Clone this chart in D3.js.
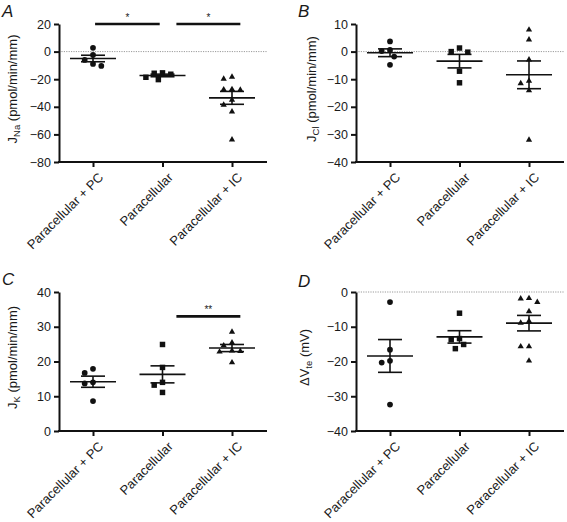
<!DOCTYPE html>
<html>
<head>
<meta charset="utf-8">
<script src="https://cdn.jsdelivr.net/npm/d3@7"></script>
<style>
  html, body { margin: 0; padding: 0; background: #fff; }
  svg { display: block; }
  text { font-family: "Liberation Sans", Arial, Helvetica, sans-serif; fill: #1a1a1a; }
</style>
</head>
<body>
<svg id="chart" width="567" height="522"></svg>
<script>
// ---------------- data ----------------
const categories = ["Paracellular + PC", "Paracellular", "Paracellular + IC"];

// Panel A: J_Na (pmol/min/mm)
const jNaPC   = [2.7, -2.4, -6.0, -8.9, -10.4];
const jNaPara = [-15.4, -16.4, -20.3, -18.6, -15.7];
const jNaIC   = [-18.4, -19.8, -27.5, -27.8, -27.3, -35.0, -38.6, -43.5, -63.8];
const jNaTicks = [20, 0, -20, -40, -60, -80];

// Panel B: J_Cl (pmol/min/mm)
const jClPC   = [3.7, 0.6, 0.2, -1.8, -4.8];
const jClPara = [1.3, -0.2, 0.0, -7.1, -11.3];
const jClIC   = [7.9, 4.3, -2.9, -11.5, -10.6, -14.1, -32.0];
const jClTicks = [10, 0, -10, -20, -30, -40];

// Panel C: J_K (pmol/min/mm)
const jKPC   = [16.7, 17.9, 14.0, 13.7, 8.6];
const jKPara = [24.9, 18.3, 14.0, 13.2, 11.1];
const jKIC   = [28.5, 25.4, 24.6, 23.0, 22.8, 23.1, 19.7];
const jKTicks = [40, 30, 20, 10, 0];

// Panel D: ΔVte (mV)
const dVPC   = [-2.9, -16.6, -19.8, -20.3, -32.4];
const dVPara = [-6.1, -13.4, -13.7, -15.1, -16.3];
const dVIC   = [-1.8, -2.9, -1.9, -5.6, -8.9, -8.4, -15.7, -15.7, -19.8];
const dVTicks = [0, -10, -20, -30, -40];

// significance annotations: groups compared, label, level (data units)
const sigA = [{a: 0, b: 1, label: "*", level: 20}, {a: 1, b: 2, label: "*", level: 20}];
const sigC = [{a: 1, b: 2, label: "**", level: 33}];

// ---------------- layout ----------------
const svg = d3.select("#chart");
const W = 208;
const cols = [59, 356];
const rows = [[24, 162], [292, 431]];
const symbolsByGroup = [d3.symbolCircle, d3.symbolSquare, d3.symbolTriangle];
const symbolSizes = [26, 30, 17];
// nudges for significance bar ends (category units)
const sigTrim = {"0-1": [0.03, -0.04], "1-2": [0.2, 0.12]};

const panels = [
  {letter: "A", col: 0, row: 0, ticks: jNaTicks, groups: [jNaPC, jNaPara, jNaIC], zero: true, sig: sigA,
   label: ["J", "Na", " (pmol/min/mm)"], labelX: 17, letterY: 17},
  {letter: "B", col: 1, row: 0, ticks: jClTicks, groups: [jClPC, jClPara, jClIC], zero: true, sig: [],
   label: ["J", "Cl", " (pmol/min/mm)"], labelX: 316, letterY: 17},
  {letter: "C", col: 0, row: 1, ticks: jKTicks, groups: [jKPC, jKPara, jKIC], zero: false, sig: sigC,
   label: ["J", "K", " (pmol/min/mm)"], labelX: 17, letterY: 285},
  {letter: "D", col: 1, row: 1, ticks: dVTicks, groups: [dVPC, dVPara, dVIC], zero: true, sig: [],
   label: ["ΔV", "te", " (mV)"], labelX: 309, letterY: 287}
];

function swarm(ys, cx, step, minDist) {
  const order = ys.map((y, i) => i).sort((i, j) => ys[i] - ys[j]);
  const placed = [];
  const xs = new Array(ys.length);
  const cands = [0];
  for (let k = 1; k < 12; k++) { cands.push(-k * step / 2, k * step / 2); }
  order.forEach(i => {
    const y = ys[i];
    for (const c of cands) {
      const ok = placed.every(p => Math.hypot(p.x - c, p.y - y) >= minDist);
      if (ok) { xs[i] = cx + c; placed.push({x: c, y}); break; }
    }
  });
  return xs;
}

panels.forEach(p => {
  const x0 = cols[p.col];
  const [top, bottom] = rows[p.row];
  const g = svg.append("g");

  const y = d3.scaleLinear().domain(d3.extent(p.ticks)).range([bottom, top]);
  const x = d3.scalePoint().domain(categories).range([x0 + 34, x0 + 173]);
  const step = x.step();
  const xIdx = d3.scaleLinear().domain([0, 2]).range([x0 + 34, x0 + 173]);

  // zero dotted line
  if (p.zero) {
    g.append("line")
      .attr("x1", x0).attr("x2", x0 + W)
      .attr("y1", y(0)).attr("y2", y(0))
      .attr("stroke", "#9a9a9a").attr("stroke-width", 1)
      .attr("stroke-dasharray", "1.2,1.2");
  }

  // y axis
  const yAxis = d3.axisLeft(y).tickValues(p.ticks).tickSize(5).tickSizeOuter(0).tickPadding(3)
    .tickFormat(d => d < 0 ? "\u2212" + Math.abs(d) : String(d));
  const ya = g.append("g").attr("transform", `translate(${x0},0)`).call(yAxis);
  ya.select(".domain").attr("stroke", "#111").attr("stroke-width", 2);
  ya.selectAll(".tick line").attr("stroke", "#111").attr("stroke-width", 2);
  ya.selectAll(".tick text").style("font-size", "12.5px").attr("fill", "#1a1a1a")
    .style("font-family", "'Liberation Sans', Arial, sans-serif");

  // x axis
  g.append("line").attr("x1", x0 - 1).attr("x2", x0 + W).attr("y1", bottom).attr("y2", bottom)
    .attr("stroke", "#111").attr("stroke-width", 2);
  const xAxis = d3.axisBottom(x).tickSize(5).tickSizeOuter(0).tickFormat("");
  const xa = g.append("g").attr("transform", `translate(0,${bottom})`).call(xAxis);
  xa.select(".domain").remove();
  xa.selectAll(".tick line").attr("stroke", "#111").attr("stroke-width", 2);
  g.selectAll("text.cat").data(categories).enter().append("text")
    .attr("class", "cat")
    .attr("transform", d => `translate(${x(d) + 8},${bottom + 13}) rotate(-45)`)
    .attr("text-anchor", "end").attr("dy", "0.35em")
    .style("font-size", "13px")
    .text(d => d);

  // y label
  const midY = (top + bottom) / 2;
  const lab = g.append("text")
    .attr("transform", `translate(${p.labelX},${midY - 4}) rotate(-90)`)
    .attr("text-anchor", "middle")
    .style("font-size", "13px");
  lab.append("tspan").text(p.label[0]);
  lab.append("tspan").attr("dy", 3).style("font-size", "9.5px").text(p.label[1]);
  lab.append("tspan").attr("dy", -3).text(p.label[2]);

  // panel letter
  g.append("text").attr("x", p.col === 0 ? 2 : 298).attr("y", p.letterY)
    .style("font-size", "17px").style("font-style", "italic").text(p.letter);

  // groups
  p.groups.forEach((vals, gi) => {
    const cx = x(categories[gi]);
    const ys = vals.map(v => y(v));
    const xs = swarm(ys, cx, 8.3, 7);
    const sym = d3.symbol().type(symbolsByGroup[gi]).size(symbolSizes[gi]);
    g.selectAll(null).data(vals).enter().append("path")
      .attr("d", sym)
      .attr("transform", (d, i) => `translate(${xs[i]},${ys[i]})`)
      .attr("fill", "#111");

    const m = d3.mean(vals);
    const sem = d3.deviation(vals) / Math.sqrt(vals.length);
    const sg = g.append("g").attr("stroke", "#111").attr("stroke-width", 1.6);
    sg.append("line").attr("x1", cx - 23).attr("x2", cx + 23).attr("y1", y(m)).attr("y2", y(m));
    sg.append("line").attr("x1", cx - 12).attr("x2", cx + 12).attr("y1", y(m + sem)).attr("y2", y(m + sem));
    sg.append("line").attr("x1", cx - 12).attr("x2", cx + 12).attr("y1", y(m - sem)).attr("y2", y(m - sem));
    sg.append("line").attr("x1", cx).attr("x2", cx).attr("y1", y(m + sem)).attr("y2", y(m - sem));
  });

  // significance bars
  p.sig.forEach(s => {
    const trim = sigTrim[`${s.a}-${s.b}`];
    const xa1 = xIdx(s.a + trim[0]), xa2 = xIdx(s.b + trim[1]);
    const yy = y(s.level);
    g.append("line").attr("x1", xa1).attr("x2", xa2).attr("y1", yy).attr("y2", yy)
      .attr("stroke", "#111").attr("stroke-width", 2.6);
    g.append("text").attr("x", (xa1 + xa2) / 2).attr("y", yy - 3)
      .attr("text-anchor", "middle").style("font-size", "10px").text(s.label);
  });
});
</script>
</body>
</html>
